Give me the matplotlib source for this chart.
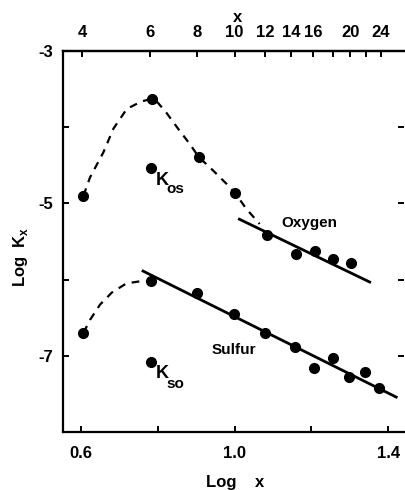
"""
Log Kx vs Log x  (oxygen / sulfur)
"""
import numpy as np
import matplotlib
matplotlib.use('Agg')
import matplotlib.pyplot as plt

# %% --------------------------------------------------------------------------------
# DATA
# -----------------------------------------------------------------------------------
# Oxygen points
OX_X = [0.606, 0.784, 0.906, 1.002, 1.085, 1.160, 1.209, 1.255, 1.303]
OX_Y = [-4.90, -3.63, -4.39, -4.87, -5.42, -5.66, -5.62, -5.73, -5.78]
# Sulfur points
SU_X = [0.606, 0.782, 0.902, 0.998, 1.080, 1.156, 1.206, 1.255, 1.297, 1.340, 1.377]
SU_Y = [-6.70, -6.02, -6.17, -6.45, -6.70, -6.89, -7.16, -7.03, -7.28, -7.21, -7.42]
# single points labelled K_os / K_so
KOS_X, KOS_Y = 0.782, -4.53
KSO_X, KSO_Y = 0.783, -7.08
# straight lines
OX_FIT_X = [1.009, 1.355]
OX_FIT_Y = [-5.20, -6.04]
SU_FIT_X = [0.758, 1.424]
SU_FIT_Y = [-5.88, -7.55]
# dashed hand-drawn curves
OX_CURVE_X = [0.606, 0.623, 0.658, 0.684, 0.719, 0.758, 0.784, 0.800, 0.822, 0.857,
              0.883, 0.906, 0.944, 0.978, 1.002, 1.030, 1.065]
OX_CURVE_Y = [-4.90, -4.66, -4.33, -4.02, -3.76, -3.66, -3.63, -3.68, -3.81, -4.05,
              -4.22, -4.39, -4.57, -4.74, -4.87, -5.07, -5.27]
SU_CURVE_X = [0.606, 0.623, 0.649, 0.680, 0.718, 0.757, 0.782]
SU_CURVE_Y = [-6.70, -6.53, -6.33, -6.17, -6.05, -6.02, -6.02]
# axis ticks
XTICKS      = [0.6, 0.8, 1.0, 1.2, 1.4]
XTICKLABELS = ['0.6', '', '1.0', '', '1.4']
YTICKS      = [-8, -7, -6, -5, -4, -3]
YTICKLABELS = ['', '-7', '', '-5', '', '-3']
TOP_VALUES  = [4, 6, 8, 10, 12, 14, 16, 18, 20, 22, 24]
TOP_LABELS  = ['4', '6', '8', '10', '12', '14', '16', '', '20', '', '24']

# %% --------------------------------------------------------------------------------
# PLOT
# -----------------------------------------------------------------------------------
plt.rcParams['font.family'] = ['Liberation Sans', 'DejaVu Sans']
plt.rcParams['font.weight'] = 'bold'
plt.rcParams['mathtext.fontset'] = 'custom'
plt.rcParams['mathtext.bf'] = 'Liberation Sans:bold'
plt.rcParams['axes.unicode_minus'] = False

FS = 12
fig = plt.figure(figsize=(4.05, 4.90), dpi=100)
ax = fig.add_axes([0.156, 0.1184, 0.842, 0.7776])

DASH = dict(color='black', linewidth=1.6, linestyle=(0, (3.5, 3.0)))
ax.plot(OX_CURVE_X, OX_CURVE_Y, **DASH)
ax.plot(SU_CURVE_X, SU_CURVE_Y, **DASH)
ax.plot(OX_FIT_X, OX_FIT_Y, color='black', linewidth=2.0, solid_capstyle='butt')
ax.plot(SU_FIT_X, SU_FIT_Y, color='black', linewidth=2.0, solid_capstyle='butt')
ax.plot(OX_X, OX_Y, 'o', color='black', markersize=7)
ax.plot(SU_X, SU_Y, 'o', color='black', markersize=7)
ax.plot([KOS_X, KSO_X], [KOS_Y, KSO_Y], 'o', color='black', markersize=7)

# labels inside the plot (K with a lowered subscript)
ax.text(0.795, -4.765, 'K', fontsize=FS + 1, fontweight='bold', va='baseline')
ax.text(0.822, -4.87, 'os', fontsize=FS - 1, fontweight='bold', va='baseline')
ax.text(0.795, -7.29, 'K', fontsize=FS + 1, fontweight='bold', va='baseline')
ax.text(0.822, -7.42, 'so', fontsize=FS - 1, fontweight='bold', va='baseline')
ax.text(1.195, -5.26, 'Oxygen', fontsize=FS - 1, fontweight='bold', ha='center', va='center')
ax.text(0.997, -6.92, 'Sulfur', fontsize=FS - 1, fontweight='bold', ha='center', va='center')

ax.set_xlim(0.5532, 1.4416)
ax.set_ylim(-8, -3)
ax.set_xticks(XTICKS)
ax.set_xticklabels(XTICKLABELS)
ax.set_yticks(YTICKS)
ax.set_yticklabels(YTICKLABELS)
ax.tick_params(axis='both', direction='in', length=4, width=1.4, labelsize=FS,
               right=True, labelright=False)
ax.tick_params(axis='x', pad=10)
ax.tick_params(axis='y', pad=7)

for s in ['left', 'bottom', 'top']:
    ax.spines[s].set_linewidth(1.6)
ax.spines['right'].set_visible(False)

ax.set_xlabel('Log    x', fontsize=FS, fontweight='bold')
ax.xaxis.set_label_coords(0.503, -0.113)
ax.set_ylabel(r'Log  K$_{\mathbf{x}}$', fontsize=FS, fontweight='bold')
ax.yaxis.set_label_coords(-0.096, 0.459)

# top axis: x on log scale
top = ax.secondary_xaxis('top', functions=(lambda v: 10 ** v, np.log10))
top.set_xticks(TOP_VALUES)
top.set_xticklabels(TOP_LABELS)
top.tick_params(direction='in', length=4, width=1.4, labelsize=FS, pad=8)
top.spines['top'].set_linewidth(1.6)
fig.text(238 / 405, 1 - 18 / 490, 'x', fontsize=FS, fontweight='bold', ha='center', va='center')

plt.savefig('out.png', dpi=100)
